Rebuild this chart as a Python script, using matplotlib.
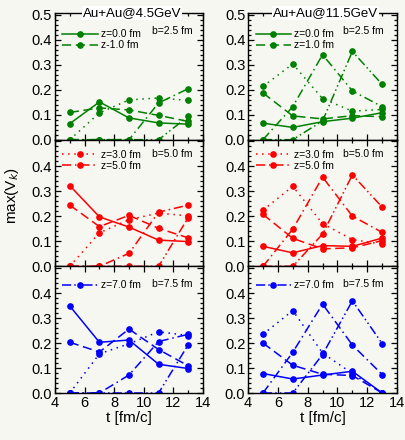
import numpy as np
import matplotlib
matplotlib.use("Agg")
import matplotlib.pyplot as plt
from matplotlib.ticker import MultipleLocator

plt.rcParams['font.family'] = ['Liberation Sans', 'DejaVu Sans']

# ---------------- data ----------------
t = [5, 7, 9, 11, 13]

# Au+Au @ 4.5 GeV
a45_b25_z0 = [0.064, 0.151, 0.087, 0.067, 0.062]
a45_b25_z1 = [0.109, 0.127, 0.119, 0.097, 0.073]
a45_b25_z3 = [0.0, 0.107, 0.159, 0.167, 0.157]
a45_b25_z5 = [0.0, 0.0, 0.0, 0.147, 0.204]
a45_b25_z7 = [0.0, 0.0, 0.0, 0.0, 0.093]

a45_b50_z0 = [0.323, 0.198, 0.157, 0.105, 0.099]
a45_b50_z1 = [0.245, 0.159, 0.204, 0.152, 0.114]
a45_b50_z3 = [0.0, 0.134, 0.187, 0.213, 0.202]
a45_b50_z5 = [0.0, 0.0, 0.052, 0.217, 0.245]
a45_b50_z7 = [0.0, 0.0, 0.0, 0.0, 0.195]

a45_b75_z0 = [0.348, 0.203, 0.212, 0.115, 0.098]
a45_b75_z1 = [0.203, 0.164, 0.256, 0.174, 0.109]
a45_b75_z3 = [0.0, 0.157, 0.197, 0.245, 0.230]
a45_b75_z5 = [0.0, 0.0, 0.072, 0.206, 0.235]
a45_b75_z7 = [0.0, 0.0, 0.0, 0.0, 0.193]

# Au+Au @ 11.5 GeV
a115_b25_z0 = [0.066, 0.049, 0.072, 0.086, 0.108]
a115_b25_z1 = [0.187, 0.095, 0.083, 0.096, 0.092]
a115_b25_z3 = [0.213, 0.303, 0.164, 0.114, 0.121]
a115_b25_z5 = [0.0, 0.132, 0.340, 0.195, 0.132]
a115_b25_z7 = [0.0, 0.0, 0.075, 0.353, 0.221]

a115_b50_z0 = [0.080, 0.054, 0.083, 0.080, 0.113]
a115_b50_z1 = [0.208, 0.112, 0.070, 0.074, 0.103]
a115_b50_z3 = [0.225, 0.320, 0.171, 0.107, 0.089]
a115_b50_z5 = [0.0, 0.149, 0.357, 0.201, 0.136]
a115_b50_z7 = [0.0, 0.0, 0.129, 0.366, 0.237]

a115_b75_z0 = [0.078, 0.056, 0.072, 0.087, 0.0]
a115_b75_z1 = [0.200, 0.111, 0.075, 0.070, 0.0]
a115_b75_z3 = [0.235, 0.330, 0.160, 0.078, 0.0]
a115_b75_z5 = [0.0, 0.163, 0.356, 0.192, 0.074]
a115_b75_z7 = [0.0, 0.0, 0.154, 0.369, 0.198]

z_labels = ["z=0.0 fm", "z=1.0 fm", "z=3.0 fm", "z=5.0 fm", "z=7.0 fm"]
z_labels_left = ["z=0.0 fm", "z-1.0 fm", "z=3.0 fm", "z=5.0 fm", "z=7.0 fm"]
b_labels = ["b=2.5 fm", "b=5.0 fm", "b=7.5 fm"]
titles = ["Au+Au@4.5GeV", "Au+Au@11.5GeV"]
row_colors = ["#008000", "#ff0000", "#0000ff"]

panels = [
    [[a45_b25_z0, a45_b25_z1, a45_b25_z3, a45_b25_z5, a45_b25_z7],
     [a115_b25_z0, a115_b25_z1, a115_b25_z3, a115_b25_z5, a115_b25_z7]],
    [[a45_b50_z0, a45_b50_z1, a45_b50_z3, a45_b50_z5, a45_b50_z7],
     [a115_b50_z0, a115_b50_z1, a115_b50_z3, a115_b50_z5, a115_b50_z7]],
    [[a45_b75_z0, a45_b75_z1, a45_b75_z3, a45_b75_z5, a45_b75_z7],
     [a115_b75_z0, a115_b75_z1, a115_b75_z3, a115_b75_z5, a115_b75_z7]],
]

styles = ['-', (0, (6, 3)), (0, (1, 3)), (0, (6, 2.5, 1, 2.5)),
          (0, (6, 2, 1, 2, 1, 2))]
legend_sets = [[0, 1], [2, 3], [4]]

# ---------------- figure ----------------
bg = '#f7f7f2'
fig = plt.figure(figsize=(4.06, 4.4), dpi=100, facecolor=bg)

col_x = [0.1355, 0.611]
col_w = [0.3645, 0.367]
row_h = 0.2879
bottom0 = 0.1068
leg_ys = [0.87, 0.92, 0.89]

for r in range(3):
    for c in range(2):
        y0 = bottom0 + (2 - r) * row_h
        ax = fig.add_axes([col_x[c], y0, col_w[c], row_h], facecolor=bg)
        color = row_colors[r]
        lines = []
        for k, ys in enumerate(panels[r][c]):
            ln, = ax.plot(t, ys, color=color, linestyle=styles[k], lw=1.1,
                          marker='o', markersize=3.8)
            lines.append(ln)
        ax.set_xlim(4, 14)
        ax.set_ylim(0, 0.507)
        ax.xaxis.set_major_locator(MultipleLocator(2))
        ax.xaxis.set_minor_locator(MultipleLocator(1))
        ax.set_yticks(np.arange(0, 0.51, 0.1))
        ax.yaxis.set_minor_locator(MultipleLocator(0.02))
        ax.tick_params(which='both', direction='in', top=True, right=True,
                       labelsize=10.5, width=0.9, pad=2)
        ax.tick_params(which='major', length=4)
        ax.tick_params(which='minor', length=2)
        if r == 0:
            ax.set_yticklabels(["0.0", "0.1", "0.2", "0.3", "0.4", "0.5"])
        else:
            ax.set_yticklabels(["0.0", "0.1", "0.2", "0.3", "0.4", ""])
        if r < 2:
            ax.set_xticklabels([])
        else:
            ax.set_xlabel("t [fm/c]", fontsize=11, labelpad=1)
        for sp in ax.spines.values():
            sp.set_linewidth(1.0)

        labs = z_labels_left if c == 0 else z_labels
        idx = legend_sets[r]
        ax.legend([lines[i] for i in idx], [labs[i] for i in idx],
                  loc='upper left', bbox_to_anchor=(0.05, leg_ys[r]),
                  frameon=False, fontsize=7.5, handlelength=3.4,
                  handletextpad=0.3, labelspacing=0.1, borderaxespad=0,
                  borderpad=0, numpoints=1)
        bx = 0.93 if c == 0 else 0.91
        ax.text(bx, 0.435 if r != 1 else 0.45, b_labels[r], fontsize=7.5,
                ha='right', va='center', transform=ax.get_yaxis_transform())
        if r == 0:
            ax.text(0.52, 1.0, titles[c], transform=ax.transAxes,
                    ha='center', va='center', fontsize=9.5, zorder=10,
                    bbox=dict(facecolor='white', edgecolor='none', pad=0.5),
                    clip_on=False)

fig.text(0.03, 0.555, "max(V$_k$)", rotation=90, ha='center', va='center',
         fontsize=11)

fig.savefig("out.png", dpi=100, facecolor=bg)
